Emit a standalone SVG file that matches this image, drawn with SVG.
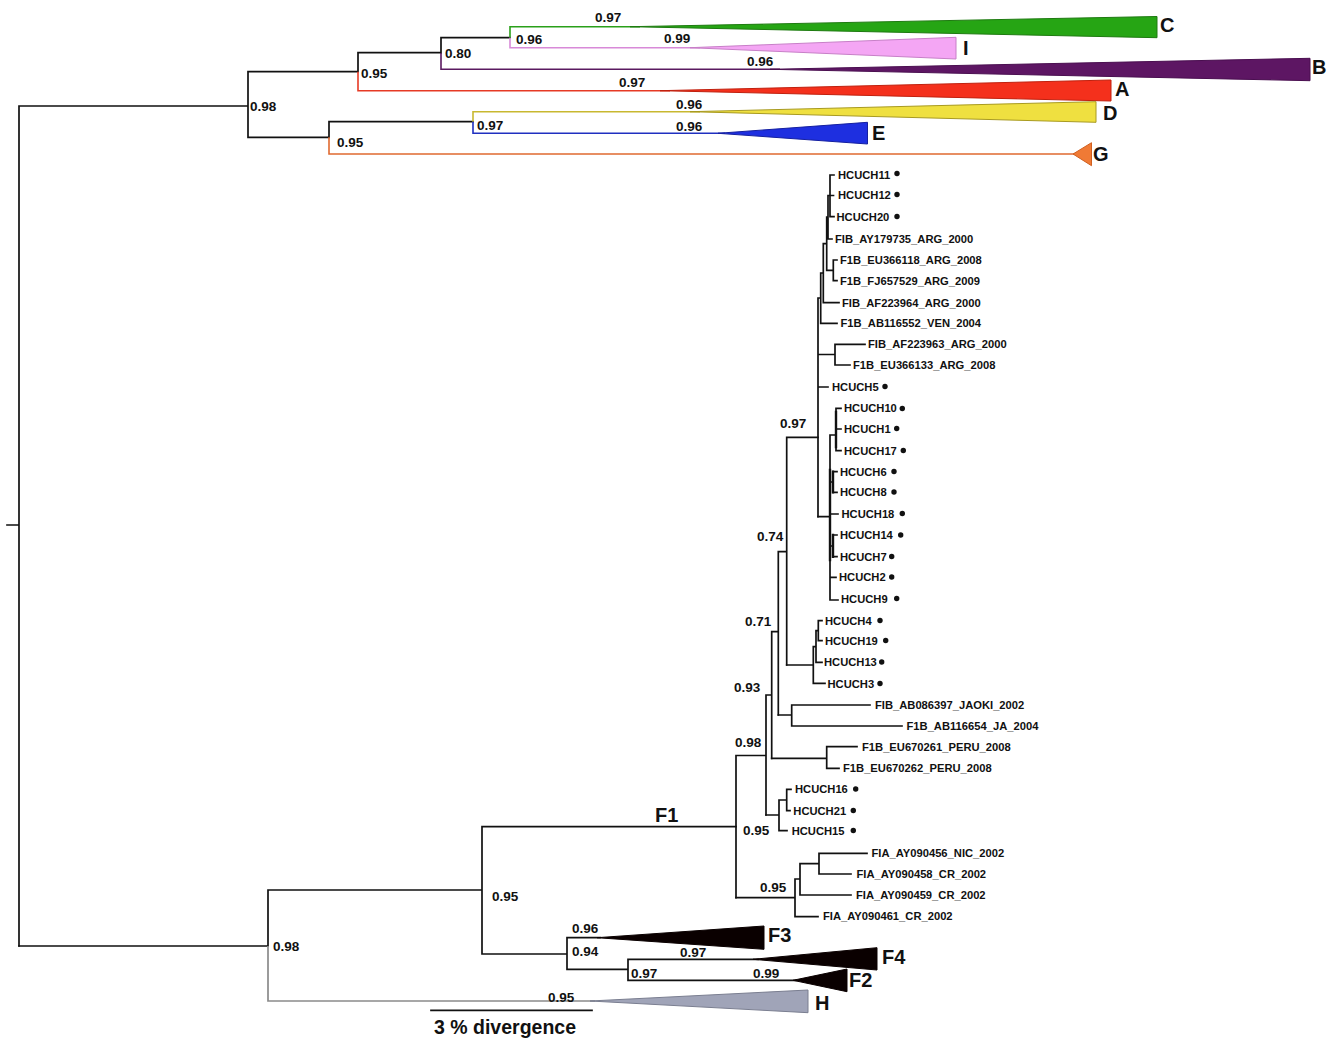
<svg xmlns="http://www.w3.org/2000/svg" width="1333" height="1041" viewBox="0 0 1333 1041">
<style>
.b{fill:none;stroke:#111;stroke-width:1.7;stroke-linecap:square}
.t{stroke-width:2.4}
.s{font-family:"Liberation Sans",Arial,sans-serif;font-weight:bold;font-size:13.5px;fill:#111}
.l{font-family:"Liberation Sans",Arial,sans-serif;font-weight:bold;font-size:11.2px;fill:#111}
.c{font-family:"Liberation Sans",Arial,sans-serif;font-weight:bold;font-size:20px;fill:#111}
.sc{font-family:"Liberation Sans",Arial,sans-serif;font-weight:bold;font-size:19.5px;fill:#111}
.d{fill:#111}
</style>
<rect width="1333" height="1041" fill="#fff"/>
<g id="connectors">
<path class="b" d="M7,525H19M19,106V946M19,106H248M248,71.7V137.3M248,71.7H358M358,52.7V71.7M358,52.7H441M441,37.7V53M441,37.7H510M248,137.3H329M329,121.7V137.3M329,121.7H473"/>
<path fill="none" stroke="#2aa01a" stroke-width="1.6" d="M510,37.7V26.7H640"/>
<path fill="none" stroke="#d88ad8" stroke-width="1.6" d="M510,37.7V47.7H700"/>
<path fill="none" stroke="#5a1a60" stroke-width="1.6" d="M441,53V69.3H780"/>
<path fill="none" stroke="#e63a25" stroke-width="1.6" d="M358,71.7V90.7H670"/>
<path fill="none" stroke="#c8b830" stroke-width="1.6" d="M473,121.7V111.7H700"/>
<path fill="none" stroke="#2030c0" stroke-width="1.6" d="M473,121.7V133.3H725"/>
<path fill="none" stroke="#e06a30" stroke-width="1.6" d="M329,137.3V154H1075"/>
<path class="b" d="M19,946H268M268,890V946M268,890H482M482,826.7V954M482,826.7H736M482,954H567M567,937.7V969.3M567,937.7H600M567,969.3H628M628,959.3V980.3M628,959.3H758M628,980.3H796"/>
<path fill="none" stroke="#8a8a8a" stroke-width="1.7" d="M268,946V1001H595"/>
<path class="b" d="M736,755.5V897.7M736,755.5H766M766,695V815M766,695H771.7M771.7,631.7V758.3M771.7,631.7H778.3M778.3,551.7V715M778.3,551.7H786.7M786.7,437.3V665M786.7,437.3H818"/>
<path class="b" d="M818,298V516.7M818,298H820.7M820.7,273V323.3M820.7,323.3H837M820.7,273H823.3M823.3,243.7V302.7M823.3,302.7H839M823.3,243.7H826.7M826.7,217V270.3M826.7,270.3H833.3M833.3,260V280.7M833.3,260H837M833.3,280.7H837M826.7,217H828M828,195.5V239M828,239H832M828,195.5H830M830,175V216.7M830,175H834M830,195.5H833.5M830,216.7H834M818,354.5H835M835,344.3V365M835,344.3H865M835,365H850M818,387H828"/>
<path class="b" d="M818,516.7H830M830,435V600M830,435H836M836,408.3V450.7M836,408.3H841M836,429H841M836,450.7H841M830,600H838M830,577.3H836M830,514H838M830,482H833M830,546H833M833,471.7H837M833,492.3H837M833,535H837M833,556.7H837"/>
<path class="b t" d="M836,412V447M833,471.7V492.3M833,535V556.7M830,470V560"/>
<path class="b" d="M786.7,665H813.3M813.3,646.7V683.3M813.3,683.3H825M813.3,646.7H816M816,630.7V662.3M816,662.3H822M816,630.7H818.3M818.3,620.7V640.7M818.3,620.7H822M818.3,640.7H822"/>
<path class="b" d="M778.3,715H791.7M791.7,705V726M791.7,705H870M791.7,726H902M771.7,758.3H826.7M826.7,746.7V768.3M826.7,746.7H857M826.7,768.3H839"/>
<path class="b" d="M766,815H779M779,800V830.7M779,800H786.7M786.7,789.3V810.7M786.7,789.3H791M786.7,810.7H790M779,830.7H787"/>
<path class="b" d="M736,897.7H795M795,879V916.7M795,879H800M800,863.7V895M800,895H851M800,863.7H819M819,853.3V874M819,853.3H867M819,874H851M795,916.7H818"/>
<path class="b" d="M431,1010.3H592"/>
</g>
<g id="clade-C"><polygon points="630,26.7 1157,16.5 1157,37.7" fill="#26a514" stroke="#1e7a10" stroke-width="1"/><text class="c" x="1160" y="32">C</text></g>
<g id="clade-I"><polygon points="690,47.7 956,37.3 956,59" fill="#f4a6f4" stroke="#c77fc7" stroke-width="1"/><text class="c" x="963" y="55">I</text></g>
<g id="clade-B"><polygon points="770,69.3 1310,58.3 1310,80.7" fill="#5d1663" stroke="#4a0f50" stroke-width="1"/><text class="c" x="1312" y="74">B</text></g>
<g id="clade-A"><polygon points="660,90.7 1111,80 1111,101" fill="#f4301c" stroke="#c0200e" stroke-width="1"/><text class="c" x="1115" y="96">A</text></g>
<g id="clade-D"><polygon points="690,111.7 1096,101.7 1096,122.3" fill="#efe040" stroke="#a89a20" stroke-width="1"/><text class="c" x="1103" y="120">D</text></g>
<g id="clade-E"><polygon points="718,133.3 867.5,122.3 867.5,144" fill="#1e2fe0" stroke="#1520a0" stroke-width="1"/><text class="c" x="872" y="140">E</text></g>
<g id="clade-G"><polygon points="1073,154 1091.5,142.7 1091.5,165.7" fill="#f07a35" stroke="#d06020" stroke-width="1"/><text class="c" x="1093" y="161">G</text></g>
<g id="clade-F3"><polygon points="597,937.7 764,926 764,949.3" fill="#0a0000" stroke="#0a0000" stroke-width="1"/><text class="c" x="768" y="942">F3</text></g>
<g id="clade-F4"><polygon points="753,959.3 877,947.7 877,970" fill="#0a0000" stroke="#0a0000" stroke-width="1"/><text class="c" x="882" y="964">F4</text></g>
<g id="clade-F2"><polygon points="793,980.3 847,969 847,991.7" fill="#0a0000" stroke="#0a0000" stroke-width="1"/><text class="c" x="849" y="987">F2</text></g>
<g id="clade-H"><polygon points="590,1001 808,990 808,1012.7" fill="#a0a4b8" stroke="#7a7e90" stroke-width="1"/><text class="c" x="815" y="1010">H</text></g>
<g id="label-F1"><text class="c" x="655" y="822">F1</text></g>
<g id="scale"><text class="sc" x="434" y="1034">3 % divergence</text></g>
<g id="support">
<text class="s" x="595" y="21.5">0.97</text>
<text class="s" x="516" y="44">0.96</text>
<text class="s" x="664" y="42.5">0.99</text>
<text class="s" x="445" y="58">0.80</text>
<text class="s" x="747" y="65.5">0.96</text>
<text class="s" x="619" y="86.5">0.97</text>
<text class="s" x="361" y="77.5">0.95</text>
<text class="s" x="250" y="111">0.98</text>
<text class="s" x="676" y="109">0.96</text>
<text class="s" x="477" y="130">0.97</text>
<text class="s" x="676" y="131">0.96</text>
<text class="s" x="337" y="146.5">0.95</text>
<text class="s" x="780" y="427.5">0.97</text>
<text class="s" x="757" y="541">0.74</text>
<text class="s" x="745" y="625.5">0.71</text>
<text class="s" x="734" y="691.5">0.93</text>
<text class="s" x="735" y="746.5">0.98</text>
<text class="s" x="743" y="835">0.95</text>
<text class="s" x="760" y="892">0.95</text>
<text class="s" x="492" y="900.5">0.95</text>
<text class="s" x="273" y="951">0.98</text>
<text class="s" x="572" y="932.5">0.96</text>
<text class="s" x="572" y="955.5">0.94</text>
<text class="s" x="631" y="977.5">0.97</text>
<text class="s" x="680" y="956.5">0.97</text>
<text class="s" x="753" y="978">0.99</text>
<text class="s" x="548" y="1001.5">0.95</text>
</g>
<g id="leaves">
<g id="HCUCH11"><text class="l" x="838" y="178.5">HCUCH11</text><circle class="d" cx="897" cy="173.5" r="2.7"/></g>
<g id="HCUCH12"><text class="l" x="838" y="199">HCUCH12</text><circle class="d" cx="897" cy="194.5" r="2.7"/></g>
<g id="HCUCH20"><text class="l" x="836.5" y="220.7">HCUCH20</text><circle class="d" cx="897" cy="216.5" r="2.7"/></g>
<g id="AY179735"><text class="l" x="835" y="243">FIB_AY179735_ARG_2000</text></g>
<g id="EU366118"><text class="l" x="840" y="264">F1B_EU366118_ARG_2008</text></g>
<g id="FJ657529"><text class="l" x="840" y="284.7">F1B_FJ657529_ARG_2009</text></g>
<g id="AF223964"><text class="l" x="842" y="306.7">FIB_AF223964_ARG_2000</text></g>
<g id="AB116552"><text class="l" x="840.5" y="327.3">F1B_AB116552_VEN_2004</text></g>
<g id="AF223963"><text class="l" x="868" y="348.3">FIB_AF223963_ARG_2000</text></g>
<g id="EU366133"><text class="l" x="853" y="369">F1B_EU366133_ARG_2008</text></g>
<g id="HCUCH5"><text class="l" x="832" y="391.3">HCUCH5</text><circle class="d" cx="885" cy="386.5" r="2.7"/></g>
<g id="HCUCH10"><text class="l" x="844" y="412.3">HCUCH10</text><circle class="d" cx="902.3" cy="408.5" r="2.7"/></g>
<g id="HCUCH1"><text class="l" x="844" y="433">HCUCH1</text><circle class="d" cx="896.7" cy="428.5" r="2.7"/></g>
<g id="HCUCH17"><text class="l" x="844" y="454.7">HCUCH17</text><circle class="d" cx="903.3" cy="450.5" r="2.7"/></g>
<g id="HCUCH6"><text class="l" x="840" y="475.7">HCUCH6</text><circle class="d" cx="894" cy="471.5" r="2.7"/></g>
<g id="HCUCH8"><text class="l" x="840" y="496.3">HCUCH8</text><circle class="d" cx="894" cy="492" r="2.7"/></g>
<g id="HCUCH18"><text class="l" x="841.5" y="518">HCUCH18</text><circle class="d" cx="902.3" cy="513.5" r="2.7"/></g>
<g id="HCUCH14"><text class="l" x="840" y="539">HCUCH14</text><circle class="d" cx="900.7" cy="535" r="2.7"/></g>
<g id="HCUCH7"><text class="l" x="840" y="560.7">HCUCH7</text><circle class="d" cx="891.7" cy="556.5" r="2.7"/></g>
<g id="HCUCH2"><text class="l" x="839" y="581.3">HCUCH2</text><circle class="d" cx="891.7" cy="577" r="2.7"/></g>
<g id="HCUCH9"><text class="l" x="841" y="603">HCUCH9</text><circle class="d" cx="896.7" cy="598.5" r="2.7"/></g>
<g id="HCUCH4"><text class="l" x="825" y="624.7">HCUCH4</text><circle class="d" cx="880" cy="620.5" r="2.7"/></g>
<g id="HCUCH19"><text class="l" x="825" y="644.7">HCUCH19</text><circle class="d" cx="885.7" cy="640.5" r="2.7"/></g>
<g id="HCUCH13"><text class="l" x="824" y="666.3">HCUCH13</text><circle class="d" cx="881.7" cy="662" r="2.7"/></g>
<g id="HCUCH3"><text class="l" x="827.5" y="688">HCUCH3</text><circle class="d" cx="880" cy="683.5" r="2.7"/></g>
<g id="AB086397"><text class="l" x="875" y="709">FIB_AB086397_JAOKI_2002</text></g>
<g id="AB116654"><text class="l" x="906.5" y="730">F1B_AB116654_JA_2004</text></g>
<g id="EU670261"><text class="l" x="862" y="750.7">F1B_EU670261_PERU_2008</text></g>
<g id="EU670262"><text class="l" x="843" y="772.3">F1B_EU670262_PERU_2008</text></g>
<g id="HCUCH16"><text class="l" x="795" y="793.3">HCUCH16</text><circle class="d" cx="855.7" cy="789" r="2.7"/></g>
<g id="HCUCH21"><text class="l" x="793.3" y="814.7">HCUCH21</text><circle class="d" cx="853.3" cy="810.5" r="2.7"/></g>
<g id="HCUCH15"><text class="l" x="791.7" y="834.7">HCUCH15</text><circle class="d" cx="853.3" cy="830.5" r="2.7"/></g>
<g id="AY090456"><text class="l" x="871.5" y="857.3">FIA_AY090456_NIC_2002</text></g>
<g id="AY090458"><text class="l" x="856.5" y="878">FIA_AY090458_CR_2002</text></g>
<g id="AY090459"><text class="l" x="856" y="899">FIA_AY090459_CR_2002</text></g>
<g id="AY090461"><text class="l" x="823" y="920">FIA_AY090461_CR_2002</text></g>
</g>
</svg>
